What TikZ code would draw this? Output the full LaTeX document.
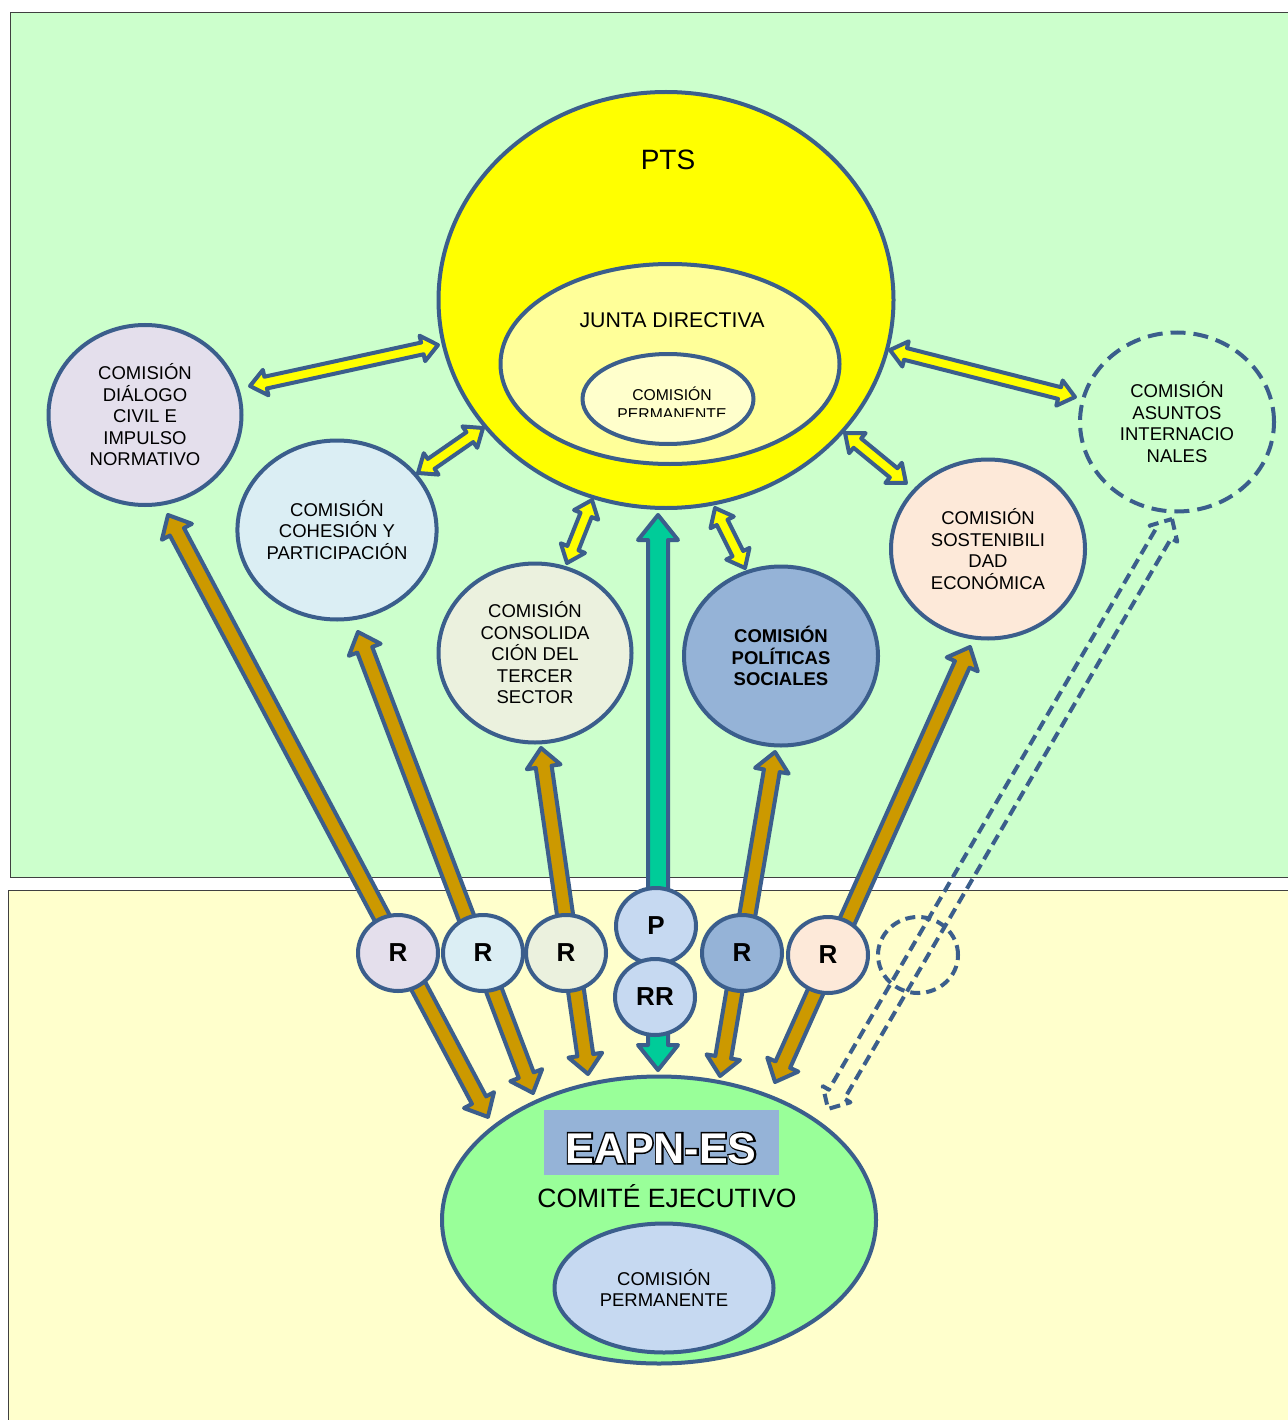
\documentclass[tikz,border=0pt]{standalone}
\usepackage{fontspec}
\setmainfont{Liberation Sans}
\newfontfamily\eapnout[FakeBold=7]{Liberation Sans Bold}
\newfontfamily\eapnin{Liberation Sans Bold}
\usetikzlibrary{shapes.geometric}
\definecolor{edge}{RGB}{59,94,140}
\definecolor{bggreen}{HTML}{CCFFCC}
\definecolor{bgyellow}{HTML}{FFFFCC}
\definecolor{ptsyellow}{HTML}{FFFF00}
\definecolor{juntayellow}{HTML}{FFFF99}
\definecolor{cpyellow}{HTML}{FFFFCC}
\definecolor{lavender}{HTML}{E4DFEC}
\definecolor{lightblue}{HTML}{DBEEF4}
\definecolor{lightolive}{HTML}{EBF1DE}
\definecolor{midblue}{HTML}{95B3D7}
\definecolor{peach}{HTML}{FDE9D9}
\definecolor{eapngreen}{HTML}{99FF99}
\definecolor{paleblue}{HTML}{C6D9F1}
\definecolor{gold}{HTML}{CC9900}
\definecolor{tealarrow}{HTML}{00CC99}
\definecolor{framegray}{HTML}{404040}
\newcommand\fsA{\fontsize{18.5}{21.5}\selectfont}
% block arrow with heads at both ends
\newcommand\blockarrow[6]{%
  \path (#2); \pgfgetlastxy{\baX}{\baY}%
  \path (#3); \pgfgetlastxy{\bbX}{\bbY}%
  \pgfmathsetmacro\baAng{atan2(\bbY-\baY,\bbX-\baX)}%
  \pgfmathsetmacro\baLen{veclen(\bbX-\baX,\bbY-\baY)}%
  \pgfmathsetmacro\baM{\baLen-#6}%
  \draw[#1, shift={(\baX,\baY)}, rotate=\baAng]
    (0pt,0pt) -- (#6pt,#5pt) -- (#6pt,#4pt) -- (\baM pt,#4pt) -- (\baM pt,#5pt)
    -- (\baLen pt,0pt) -- (\baM pt,-#5pt) -- (\baM pt,-#4pt) -- (#6pt,-#4pt)
    -- (#6pt,-#5pt) -- cycle;
}
\begin{document}
\begin{tikzpicture}[x=1pt,y=-1pt,
  ell/.style={ellipse, draw=edge, line width=4pt, inner sep=0pt, align=center, font=\fsA},
  rcirc/.style={ellipse, draw=edge, line width=4pt, minimum width=80pt, minimum height=76pt, inner sep=0pt, font=\bfseries\fontsize{26}{30}\selectfont},
  yarrow/.style={draw=edge, fill=ptsyellow, line width=4pt, line join=round},
  garrow/.style={draw=edge, fill=gold, line width=4pt, line join=round},
  tarrow/.style={draw=edge, fill=tealarrow, line width=4pt, line join=round},
  darrow/.style={draw=edge, line width=4pt, dash pattern=on 11pt off 6pt, line join=round},
  lbl/.style={inner sep=0pt, anchor=base}
]
\useasboundingbox (0,0) rectangle (1287,1420);
\fill[white] (0,0) rectangle (1287,1420);
% backgrounds
\draw[framegray, line width=1pt, fill=bggreen] (10,13) rectangle (1310,877);
\draw[framegray, line width=1pt, fill=bgyellow] (8,890) rectangle (1310,1440);

% main ellipses
\node[ell, fill=ptsyellow, minimum width=455pt, minimum height=416pt] (pts) at (666,300) {};
\node[lbl, font=\fontsize{28}{32}\selectfont] (ptslbl) at (668,170) {PTS};
\node[ell, fill=juntayellow, minimum width=339pt, minimum height=200pt] (junta) at (670,364) {};
\node[lbl, font=\fontsize{21.3}{25}\selectfont] (juntalbl) at (672,327) {JUNTA DIRECTIVA};
\node[ell, fill=cpyellow, minimum width=171pt, minimum height=90pt] (cptop) at (668,399) {};
\begin{scope}
  \clip (560,370) rectangle (780,416);
  \node[inner sep=0pt, align=center, font=\fontsize{15.7}{18.5}\selectfont] (cptoplbl) at (672,403) {COMISIÓN\\PERMANENTE};
\end{scope}

\node[ell, fill=lavender, minimum width=193pt, minimum height=180pt] (dialogo) at (145,415) {COMISIÓN\\DIÁLOGO\\CIVIL E\\IMPULSO\\NORMATIVO};
\node[ell, fill=lightblue, minimum width=194pt, minimum height=179pt] (cohesion) at (337,530) {COMISIÓN\\COHESIÓN Y\\PARTICIPACIÓN};
\node[ell, fill=lightolive, minimum width=193pt, minimum height=179pt] (consol) at (535,653) {COMISIÓN\\CONSOLIDA\\CIÓN DEL\\TERCER\\SECTOR};
\node[ell, fill=midblue, minimum width=194pt, minimum height=179pt, font=\fsA\bfseries] (politicas) at (781,656) {COMISIÓN\\POLÍTICAS\\SOCIALES};
\node[ell, fill=peach, minimum width=194pt, minimum height=179pt] (sosten) at (988,549) {COMISIÓN\\SOSTENIBILI\\DAD\\ECONÓMICA};
\node[ell, minimum width=194pt, minimum height=179pt, dash pattern=on 15pt off 8pt] (asuntos) at (1177,422) {COMISIÓN\\ASUNTOS\\INTERNACIO\\NALES};

\node[ell, fill=eapngreen, minimum width=434pt, minimum height=287pt] (eapn) at (659,1220) {};
\node[fill=midblue, minimum width=235pt, minimum height=65pt, inner sep=0pt] (eapnbox) at (661.5,1142.5) {};
\node[lbl, font=\eapnout\fontsize{43}{50}\selectfont, text=black] (eapnshadow) at (661,1163) {EAPN-ES};
\node[lbl, font=\eapnin\fontsize{43}{50}\selectfont, text=white] (eapnlbl) at (661,1163) {EAPN-ES};
\node[lbl, font=\fontsize{26.5}{30}\selectfont] (comitelbl) at (667,1207) {COMITÉ EJECUTIVO};
\node[ell, fill=paleblue, minimum width=219pt, minimum height=129pt] (cpbot) at (664,1288) {COMISIÓN\\PERMANENTE};

% arrow end points
\coordinate (ya1a) at (250,386); \coordinate (ya1b) at (438,345);
\coordinate (ya2a) at (418,473); \coordinate (ya2b) at (483,428);
\coordinate (ya3a) at (567,563); \coordinate (ya3b) at (592,500);
\coordinate (ya4a) at (715,508); \coordinate (ya4b) at (745,568);
\coordinate (ya5a) at (845,433); \coordinate (ya5b) at (906,483);
\coordinate (ya6a) at (890,350); \coordinate (ya6b) at (1075,397);
\coordinate (ga1a) at (168,515); \coordinate (ga1b) at (488,1117);
\coordinate (ga2a) at (358,632); \coordinate (ga2b) at (533,1093);
\coordinate (ga3a) at (541,748); \coordinate (ga3b) at (588,1074);
\coordinate (ga4a) at (775,752); \coordinate (ga4b) at (720,1076);
\coordinate (ga5a) at (970,647); \coordinate (ga5b) at (775,1082);
\coordinate (taa) at (658,515); \coordinate (tab) at (658,1070);
\coordinate (daa) at (1172,519); \coordinate (dab) at (828,1109);

% yellow double arrows
\blockarrow{yarrow}{ya1a}{ya1b}{6}{13}{16}
\blockarrow{yarrow}{ya2a}{ya2b}{6}{13}{16}
\blockarrow{yarrow}{ya3a}{ya3b}{6}{13}{16}
\blockarrow{yarrow}{ya4a}{ya4b}{6}{13}{16}
\blockarrow{yarrow}{ya5a}{ya5b}{6}{13}{16}
\blockarrow{yarrow}{ya6a}{ya6b}{6}{13}{16}
% golden arrows
\blockarrow{garrow}{ga1a}{ga1b}{8}{17}{19}
\blockarrow{garrow}{ga2a}{ga2b}{8}{17}{19}
\blockarrow{garrow}{ga3a}{ga3b}{8}{17}{19}
\blockarrow{garrow}{ga4a}{ga4b}{8}{17}{19}
\blockarrow{garrow}{ga5a}{ga5b}{8}{17}{19}
% teal arrow
\blockarrow{tarrow}{taa}{tab}{10}{20}{25}
% dashed arrow
\blockarrow{darrow}{daa}{dab}{9}{16}{17}

% representative circles
\node[rcirc, fill=lavender] (r1) at (398,953) {R};
\node[rcirc, fill=lightblue] (r2) at (483,953) {R};
\node[rcirc, fill=lightolive] (r3) at (566,953) {R};
\node[rcirc, fill=paleblue] (pc) at (656,926) {P};
\node[rcirc, fill=paleblue] (rr) at (655,997) {RR};
\node[rcirc, fill=midblue] (r5) at (742,953) {R};
\node[rcirc, fill=peach] (r6) at (828,955) {R};
\node[rcirc, dash pattern=on 10pt off 6pt] (r7) at (918,955) {};
\end{tikzpicture}
\end{document}
